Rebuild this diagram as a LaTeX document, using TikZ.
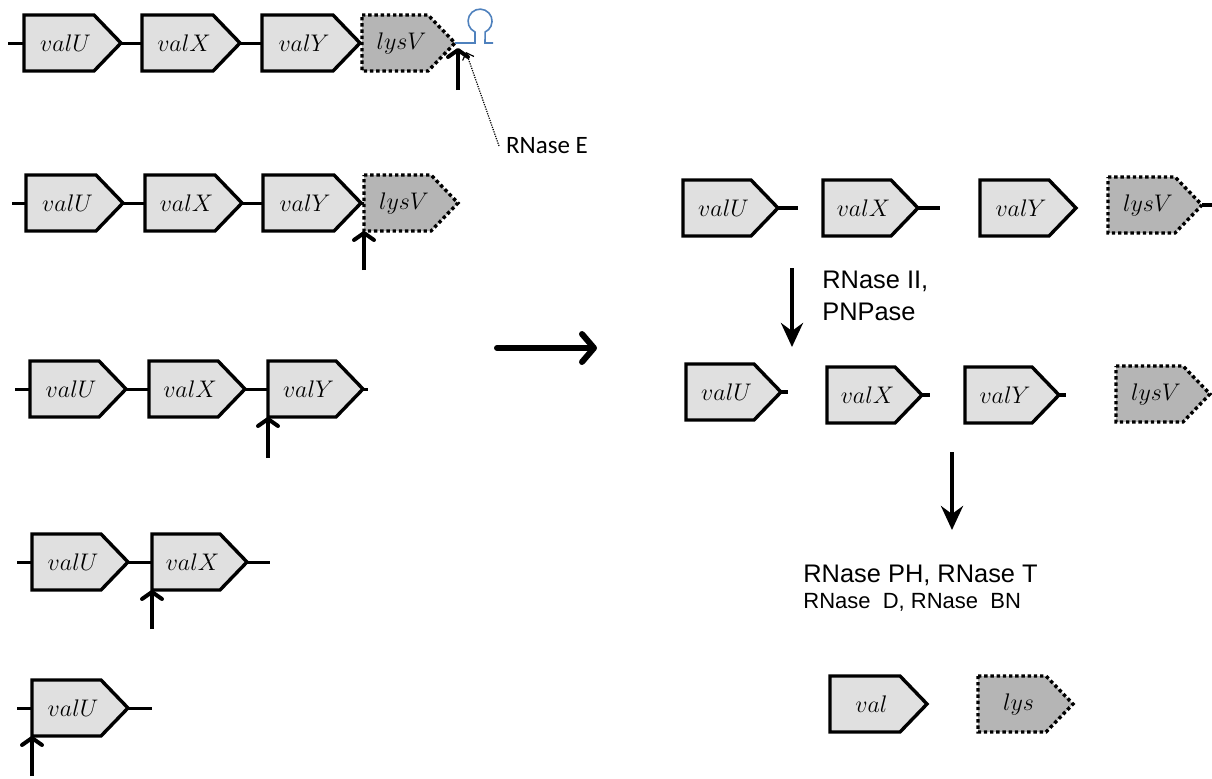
\documentclass[tikz,border=0pt]{standalone}
\usepackage{fontspec}
\usepackage{amsmath}
\usetikzlibrary{arrows.meta, positioning}
\newfontfamily\calibri{Carlito}
\newfontfamily\arial{Liberation Sans}
\definecolor{hairpinblue}{RGB}{79,129,189}
\tikzset{
  valgene/.style={draw, line width=1.7pt, fill=black!12, line join=miter},
  lysgene/.style={draw, line width=1.7pt, fill=black!29, dash pattern=on 1.7pt off 1.4pt},
  genename/.style={font=\fontsize{12}{14}\selectfont, inner sep=0pt},
  genelink/.style={line width=1.5pt},
  genestub/.style={line width=2pt},
  cutmark/.style={line width=2pt, -{Straight Barb[length=3.5pt,width=10pt,round]}},
  bigarrow/.style={line width=3pt, line cap=round, -{Straight Barb[length=6pt,width=14pt,round]}},
  decayarrow/.style={line width=2pt, -{Stealth[length=12pt,width=11pt,inset=4pt]}},
  enzyme/.style={font=\arial\fontsize{12.7}{15}\selectfont, anchor=base west, inner sep=0pt},
}
% gene arrow: name, left x, mid y, length, style, label
\newcommand{\genebox}[6]{%
  \draw[#5] (#2,#3-28) -- (#2+#4-27,#3-28) -- (#2+#4,#3) -- (#2+#4-27,#3+28) -- (#2,#3+28) -- cycle;
  \coordinate (#1-w) at (#2,#3);
  \coordinate (#1-e) at (#2+#4,#3);
  \coordinate (#1-sw) at (#2,#3+28);
  \node[genename] (#1) at (#2+#4/2-7,#3) {$#6$};
}

\begin{document}
\begin{tikzpicture}[x=0.5pt,y=-0.5pt]
    \useasboundingbox (0,0) rectangle (1212,778);

    % operon and the processed intermediates
    \genebox{u1}{24}{43}{97}{valgene}{valU}
    \genebox{x1}{142}{43}{98}{valgene}{valX}
    \genebox{y1}{262}{43}{98}{valgene}{valY}
    \genebox{v1}{362}{43}{93}{lysgene}{lysV}
    \coordinate (s1) at (8,43);
    \coordinate (c1) at (458,90);
    \draw[genelink] (s1) -- (u1-w) (u1-e) -- (x1-w) (x1-e) -- (y1-w);
    \draw[hairpinblue, line width=0.8pt] (v1-e) -- (475,43) -- (475,32)
        arc[start angle=115, end angle=425, radius=12] -- (485,43) -- (493,43);
    \draw[cutmark] (c1) -- ([yshift=-2.5pt]c1 |- v1-e);
    \node[font=\calibri\fontsize{12.5}{15}\selectfont, anchor=west] (rnaseE) at (499,146) {RNase E};
    \coordinate (e1) at (466,52);
    \draw[line width=0.6pt, dash pattern=on 0.6pt off 0.6pt, -{Straight Barb[length=3pt,width=6pt]}] (rnaseE.west) -- (e1);

    \genebox{u2}{26}{203}{97}{valgene}{valU}
    \genebox{x2}{145}{203}{97}{valgene}{valX}
    \genebox{y2}{263}{203}{98}{valgene}{valY}
    \genebox{v2}{364}{203}{94}{lysgene}{lysV}
    \coordinate (s2) at (12,203);
    \coordinate (c2) at (364,270);
    \draw[genelink] (s2) -- (u2-w) (u2-e) -- (x2-w) (x2-e) -- (y2-w) (y2-e) -- (v2-w);
    \draw[cutmark] (c2) -- (v2-sw);

    \genebox{u3}{30}{389}{96}{valgene}{valU}
    \genebox{x3}{149}{389}{96}{valgene}{valX}
    \genebox{y3}{268}{389}{95}{valgene}{valY}
    \coordinate (s3) at (15,389);
    \coordinate (t3) at (368,389);
    \coordinate (c3) at (268,458);
    \draw[genelink] (s3) -- (u3-w) (u3-e) -- (x3-w) (x3-e) -- (y3-w) (y3-e) -- (t3);
    \draw[cutmark] (c3) -- (y3-sw);

    \genebox{u4}{32}{562}{96}{valgene}{valU}
    \genebox{x4}{152}{562}{95}{valgene}{valX}
    \coordinate (s4) at (17,562);
    \coordinate (t4) at (270,562);
    \coordinate (c4) at (152,629);
    \draw[genelink] (s4) -- (u4-w) (u4-e) -- (x4-w) (x4-e) -- (t4);
    \draw[cutmark] (c4) -- (x4-sw);

    \genebox{u5}{32}{708}{96}{valgene}{valU}
    \coordinate (s5) at (17,708);
    \coordinate (t5) at (152,708);
    \coordinate (c5) at (32,776);
    \draw[genelink] (s5) -- (u5-w) (u5-e) -- (t5);
    \draw[cutmark] (c5) -- (u5-sw);

    \coordinate (b1) at (497,348);
    \coordinate (b2) at (597,348);
    \draw[bigarrow] (b1) -- (b2);

    % released pre-tRNAs and 3' maturation
    \genebox{ru}{683}{208}{95}{valgene}{valU}
    \genebox{rx}{823}{208}{95}{valgene}{valX}
    \genebox{ry}{980}{208}{96}{valgene}{valY}
    \genebox{rv}{1108}{205}{94}{lysgene}{lysV}
    \coordinate (ru-t) at (798,208);
    \coordinate (rx-t) at (940,208);
    \coordinate (rv-t) at (1212,205);
    \draw[genestub] (ru-e) -- (ru-t) (rx-e) -- (rx-t) (rv-e) -- (rv-t);

    \coordinate (d1) at (792,268);
    \coordinate (d2) at (792,347);
    \draw[decayarrow] (d1) -- (d2);
    \node[enzyme] (rn2a) at (822,288) {RNase II,};
    \node[enzyme] (rn2b) at (822,320) {PNPase};

    \genebox{qu}{686}{392}{95}{valgene}{valU}
    \genebox{qx}{827}{395}{95}{valgene}{valX}
    \genebox{qy}{965}{395}{94}{valgene}{valY}
    \genebox{qv}{1116}{394}{94}{lysgene}{lysV}
    \coordinate (qu-t) at (788,392);
    \coordinate (qx-t) at (930,395);
    \coordinate (qy-t) at (1066,395);
    \draw[genestub] (qu-e) -- (qu-t) (qx-e) -- (qx-t) (qy-e) -- (qy-t);

    \coordinate (d3) at (952,452);
    \coordinate (d4) at (952,530);
    \draw[decayarrow] (d3) -- (d4);
    \node[enzyme] (rn3a) at (803,582) {RNase PH, RNase T};
    \node[enzyme, font=\arial\fontsize{11}{13}\selectfont] (rn3b) at (803,608) {RNase\ \ D, RNase\ \ BN};

    \genebox{fv}{830}{704}{97}{valgene}{val}
    \genebox{fl}{978}{704}{95}{lysgene}{lys}
\end{tikzpicture}
\end{document}
